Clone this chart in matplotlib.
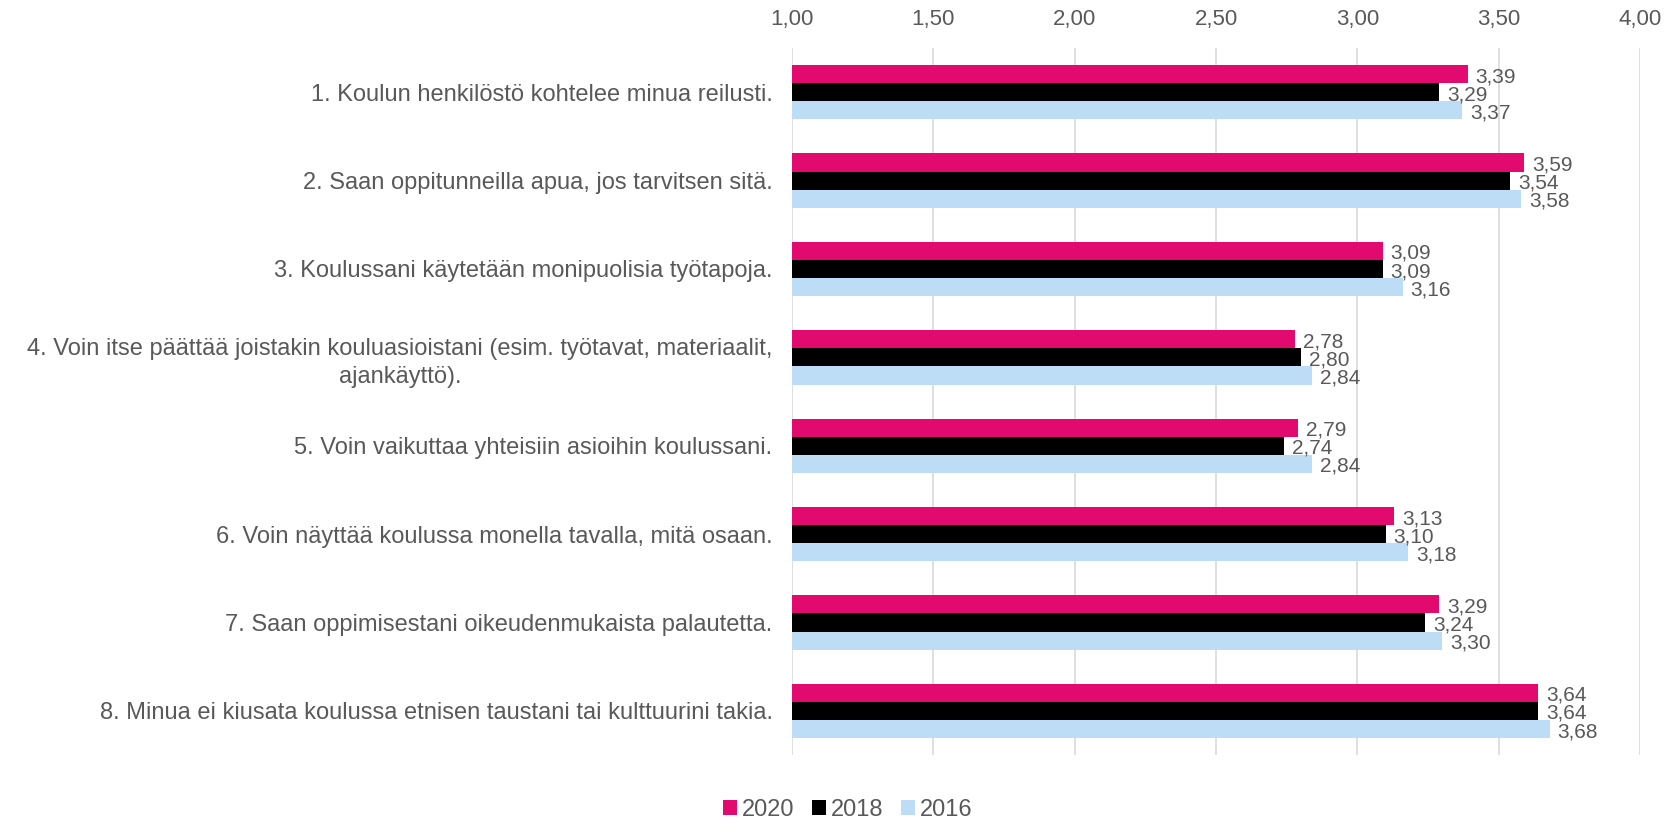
import numpy as np
import matplotlib.pyplot as plt

# Data
questions = [
    "1. Koulun henkilöstö kohtelee minua reilusti.",
    "2. Saan oppitunneilla apua, jos tarvitsen sitä.",
    "3. Koulussani käytetään monipuolisia työtapoja.",
    "4. Voin itse päättää joistakin kouluasioistani (esim. työtavat, materiaalit,\najankäyttö).",
    "5. Voin vaikuttaa yhteisiin asioihin koulussani.",
    "6. Voin näyttää koulussa monella tavalla, mitä osaan.",
    "7. Saan oppimisestani oikeudenmukaista palautetta.",
    "8. Minua ei kiusata koulussa etnisen taustani tai kulttuurini takia.",
]
years = ["2020", "2018", "2016"]
v2020 = [3.39, 3.59, 3.09, 2.78, 2.79, 3.13, 3.29, 3.64]
v2018 = [3.29, 3.54, 3.09, 2.80, 2.74, 3.10, 3.24, 3.64]
v2016 = [3.37, 3.58, 3.16, 2.84, 2.84, 3.18, 3.30, 3.68]
xticks = [1.0, 1.5, 2.0, 2.5, 3.0, 3.5, 4.0]

colors = ["#E20A6F", "#000000", "#BDDDF7"]
text_col = "#595959"

plt.rcParams['font.family'] = ['Liberation Sans', 'DejaVu Sans']

fig = plt.figure(figsize=(16.79, 8.18), dpi=100)
ax = fig.add_axes([0.4717, 0.077, 0.5051, 0.8643])

y = np.arange(len(questions))
h = 0.205
for k, (vals, yr, c) in enumerate(zip([v2020, v2018, v2016], years, colors)):
    pos = y + (k - 1) * h
    ax.barh(pos, np.array(vals) - 1.0, left=1.0, height=h, color=c, label=yr)
    for p, v in zip(pos, vals):
        ax.text(v + 0.028, p + 0.03, f"{v:.2f}".replace(".", ","),
                va="center", ha="left", fontsize=15, color=text_col)

ax.set_xlim(1.0, 4.0)
ax.set_ylim(len(questions) - 0.5, -0.5)
ax.set_xticks(xticks)
ax.set_xticklabels([f"{t:.2f}".replace(".", ",") for t in xticks])
ax.xaxis.tick_top()
ax.tick_params(axis="x", length=0, pad=13, labelsize=16, labelcolor=text_col)
ax.set_yticks(y)
ax.set_yticklabels(questions, fontsize=17, color=text_col,
                   multialignment="center", linespacing=1.35)
ax.tick_params(axis="y", length=0, pad=14)
ax.grid(axis="x", color="#D9D9D9", linewidth=1.2)
ax.set_axisbelow(True)
for s in ax.spines.values():
    s.set_visible(False)

fig.legend(loc="lower center", bbox_to_anchor=(0.505, -0.03), ncol=3, frameon=False,
           fontsize=17, handlelength=0.6, handleheight=0.6, handletextpad=0.2,
           columnspacing=0.75, labelcolor=text_col)

fig.savefig("out.png", dpi=100)
